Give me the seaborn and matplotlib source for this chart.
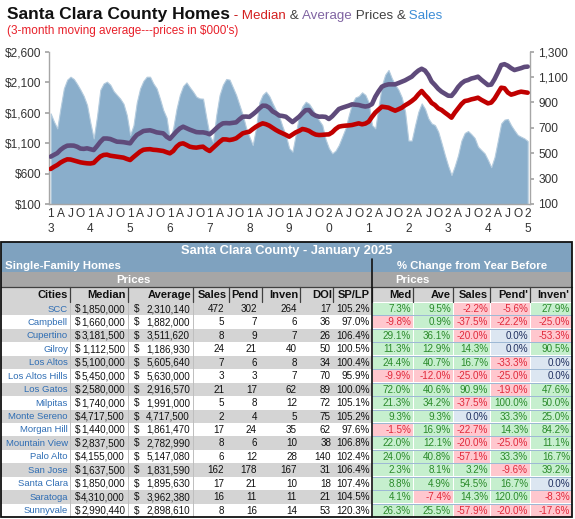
import numpy as np
import pandas as pd
import seaborn as sns
import matplotlib.pyplot as plt
from matplotlib.patches import Rectangle

sns.set_theme(style="white")
plt.rcParams['font.family'] = ['Liberation Sans', 'DejaVu Sans']

# monthly 3-month moving averages, Jan 2013 .. Jan 2025 (prices in $000's)
median_k = [
    675, 710, 740, 780, 810, 833, 830, 815, 800, 784, 775, 768,
    765, 775, 830, 880, 905, 910, 893, 885, 877, 870, 861, 840,
    822, 870, 915, 960, 990, 997, 1000, 990, 986, 978, 970, 950,
    932, 970, 1040, 1085, 1096, 1070, 1041, 1030, 1025, 1035, 1041, 1000,
    970, 1020, 1068, 1120, 1161, 1160, 1150, 1160, 1178, 1220, 1260, 1275,
    1287, 1330, 1369, 1400, 1424, 1410, 1386, 1350, 1315, 1285, 1260, 1235,
    1205, 1240, 1276, 1300, 1331, 1320, 1300, 1265, 1240, 1232, 1235, 1240,
    1243, 1276, 1330, 1369, 1380, 1386, 1390, 1397, 1410, 1424, 1408, 1420,
    1451, 1530, 1600, 1650, 1697, 1690, 1681, 1655, 1632, 1655, 1681, 1720,
    1752, 1790, 1834, 1900, 1955, 1890, 1834, 1760, 1725, 1670, 1643, 1600,
    1560, 1517, 1600, 1670, 1740, 1790, 1800, 1818, 1830, 1845, 1810, 1780,
    1752, 1765, 1830, 1920, 2009, 2000, 1930, 1895, 1910, 1930, 1944, 1935,
    1927,
]
average_k = [
    877, 905, 935, 990, 1030, 1057, 1060, 1058, 1040, 1010, 1005, 1014,
    1000, 986, 1050, 1120, 1175, 1175, 1167, 1145, 1123, 1120, 1115, 1105,
    1096, 1170, 1233, 1265, 1298, 1305, 1310, 1295, 1276, 1268, 1260, 1205,
    1170, 1230, 1290, 1340, 1369, 1345, 1320, 1300, 1280, 1276, 1276, 1265,
    1245, 1290, 1342, 1390, 1424, 1428, 1425, 1432, 1440, 1490, 1533, 1535,
    1530, 1570, 1615, 1670, 1714, 1712, 1680, 1620, 1590, 1552, 1545, 1533,
    1490, 1445, 1490, 1533, 1590, 1640, 1643, 1580, 1550, 1533, 1535, 1530,
    1495, 1540, 1600, 1659, 1680, 1697, 1715, 1736, 1730, 1725, 1710, 1700,
    1710, 1740, 1860, 1950, 2026, 2050, 2064, 2064, 2064, 2085, 2108, 2130,
    2160, 2190, 2244, 2290, 2320, 2290, 2217, 2110, 2053, 1990, 1944, 1910,
    1878, 1875, 1940, 2020, 2080, 2119, 2135, 2160, 2173, 2190, 2140, 2097,
    2053, 2060, 2150, 2260, 2381, 2395, 2370, 2330, 2299, 2315, 2330, 2350,
    2355,
]
sales = [
    814, 750, 696, 860, 1011, 1080, 1103, 1085, 1045, 1000, 950, 880,
    740, 617, 790, 1000, 1050, 1064, 1040, 990, 960, 930, 890, 800,
    644, 720, 900, 1010, 1070, 1103, 1103, 1050, 1011, 930, 840, 780,
    604, 700, 850, 960, 1030, 1058, 1020, 985, 945, 932, 930, 780,
    640, 591, 800, 959, 1040, 1085, 1080, 1020, 959, 880, 801, 700,
    630, 565, 700, 900, 960, 985, 950, 893, 840, 788, 710, 640,
    540, 512, 650, 800, 870, 906, 890, 850, 801, 760, 722, 610,
    540, 499, 520, 565, 630, 696, 800, 893, 940, 950, 980, 960,
    900, 722, 696, 870, 1037, 1120, 1156, 1090, 1040, 1000, 940, 827,
    600, 600, 720, 827, 893, 850, 775, 735, 722, 670, 580, 486,
    400, 328, 400, 486, 600, 660, 675, 650, 620, 552, 525, 499,
    447, 390, 470, 600, 735, 765, 770, 720, 680, 644, 630, 617,
    596,
]
years = ['13', '14', '15', '16', '17', '18', '19', '20', '21', '22', '23', '24', '25']
quarter_letters = ['A', 'J', 'O']
price_ticks = [100, 600, 1100, 1600, 2100, 2600]
sales_ticks = [100, 300, 500, 700, 900, 1100, 1300]

# table
cities = ['SCC', 'Campbell', 'Cupertino', 'Gilroy', 'Los Altos', 'Los Altos Hills',
          'Los Gatos', 'Milpitas', 'Monte Sereno', 'Morgan Hill', 'Mountain View',
          'Palo Alto', 'San Jose', 'Santa Clara', 'Saratoga', 'Sunnyvale']
med_price = [1850000, 1660000, 3181500, 1112500, 5100000, 5450000, 2580000, 1740000,
             4717500, 1440000, 2837500, 4155000, 1637500, 1850000, 4310000, 2990440]
avg_price = [2310140, 1882000, 3511620, 1186930, 5605640, 5630000, 2916570, 1991000,
             4717500, 1861470, 2782990, 5147080, 1831590, 1895630, 3962380, 2898610]
n_sales = [472, 5, 8, 24, 7, 3, 21, 5, 2, 17, 8, 6, 162, 17, 16, 8]
n_pend = [302, 7, 9, 21, 6, 3, 17, 8, 4, 24, 6, 12, 178, 21, 11, 16]
n_inven = [264, 6, 7, 40, 8, 7, 62, 12, 5, 35, 10, 28, 167, 10, 11, 14]
doi = [17, 36, 26, 50, 34, 70, 89, 72, 75, 62, 38, 140, 31, 18, 21, 53]
sp_lp = [105.2, 97.0, 106.4, 100.5, 100.4, 95.9, 100.0, 105.1, 105.2, 97.6, 106.8,
         102.4, 106.4, 107.4, 104.5, 120.3]
chg_med = [7.3, -9.8, 29.1, 11.3, 24.4, -9.9, 72.0, 21.3, 9.3, -1.5, 22.0, 24.0, 2.3, 8.8, 4.1, 26.3]
chg_ave = [9.5, 0.9, 36.1, 12.9, 40.7, -12.0, 40.6, 34.2, 9.3, 16.9, 12.1, 40.8, 8.1, 4.9, -7.4, 25.5]
chg_sales = [-2.2, -37.5, -20.0, 14.3, 16.7, -25.0, 90.9, -37.5, 0.0, -22.7, -20.0, -57.1, 3.2, 54.5, 14.3, -57.9]
chg_pend = [-5.6, -22.2, 0.0, 0.0, -33.3, -25.0, -19.0, 100.0, 33.3, 14.3, -25.0, 33.3, -9.6, 16.7, 120.0, -20.0]
chg_inven = [27.9, -25.0, -53.3, 90.5, 0.0, 0.0, 47.6, 50.0, 25.0, 84.2, 11.1, 16.7, 39.2, 0.0, -8.3, -17.6]

df = pd.DataFrame({'month': np.arange(len(sales)), 'median': median_k,
                   'average': average_k, 'sales': sales})

W, H = 575, 519
fig = plt.figure(figsize=(W / 100, H / 100), dpi=100)
fig.patch.set_facecolor('white')

# ---- chart ----
ax_s = fig.add_axes([49.3 / W, 1 - 204 / H, 480.7 / W, 152.3 / H])
ax_p = ax_s.twinx()

ax_s.fill_between(df['month'], 0, df['sales'], color='#8AAECB', lw=0.8,
                  edgecolor='#B5CCDE')
sns.lineplot(data=df, x='month', y='average', ax=ax_p, color='#5F4B7B', lw=3.3)
sns.lineplot(data=df, x='month', y='median', ax=ax_p, color='#C00000', lw=3.3)

ax_s.set_ylim(100, 1300)
ax_p.set_ylim(100, 2600)
ax_s.set_xlim(-0.4, 144.7)
ax_s.set_yticks(sales_ticks)
ax_s.set_yticklabels([f'{v:,}' for v in sales_ticks])
ax_p.set_yticks(price_ticks)
ax_p.set_yticklabels([f'${v:,}' for v in price_ticks])
ax_s.yaxis.set_ticks_position('right')
ax_p.yaxis.set_ticks_position('left')

xt = list(range(0, len(sales), 3))
xl = []
for m in xt:
    if m % 12 == 0:
        yy = years[m // 12]
        xl.append(yy[0] + '\n' + yy[1])
    else:
        xl.append(quarter_letters[(m % 12) // 3 - 1])
ax_s.set_xticks(xt)
ax_s.set_xticklabels(xl, linespacing=1.3)

for a in (ax_s, ax_p):
    a.set_xlabel('')
    a.set_ylabel('')
    a.grid(False)
    for sp in a.spines.values():
        sp.set_visible(False)
for side in ('left', 'right', 'bottom'):
    ax_s.spines[side].set_visible(True)
    ax_s.spines[side].set_color('#A6A6A6')
    ax_s.spines[side].set_linewidth(1.0)
ax_s.tick_params(axis='y', which='both', right=True, left=False, length=3,
                 color='#A6A6A6', labelsize=8.6, labelcolor='#333333', pad=3)
ax_p.tick_params(axis='y', which='both', left=True, right=False, length=3,
                 color='#A6A6A6', labelsize=8.6, labelcolor='#333333', pad=3)
ax_s.tick_params(axis='x', length=0, labelsize=8.6, labelcolor='#333333', pad=3)

# ---- overlay for titles & table ----
tb = fig.add_axes([0, 0, 1, 1])
tb.set_xlim(0, W)
tb.set_ylim(H, 0)
tb.axis('off')

r = fig.canvas.get_renderer()
pieces = [('Santa Clara County Homes', '#111111', 12.5, 'bold'),
          (' -', '#C00000', 9.6, 'normal'),
          (' Median', '#D42020', 9.6, 'normal'),
          (' &', '#404040', 9.6, 'normal'),
          (' Average', '#8064A2', 9.6, 'normal'),
          (' Prices &', '#404040', 9.6, 'normal'),
          (' Sales', '#3C8DD6', 9.6, 'normal')]
x = 7
for txt, col, size, wt in pieces:
    t = tb.text(x, 19, txt, color=col, fontsize=size, fontweight=wt,
                ha='left', va='baseline')
    x += t.get_window_extent(renderer=r).width
tb.text(7, 34, "(3-month moving average---prices in $000's)", color='#E8202A',
        fontsize=8.5, ha='left', va='baseline')

X0, X1 = 1, 572
edges = [1, 70, 128, 193, 229, 262, 300, 333, 372, 413, 453, 490, 530, 572]
blue_hdr = '#7FA2BF'
gray_hdr = '#A6A6A6'
light = '#D4D4D4'


def rect(x, y, w, h, fc, ec='none', lw=0, z=1):
    tb.add_patch(Rectangle((x, y), w, h, facecolor=fc, edgecolor=ec, lw=lw, zorder=z))


rect(X0, 242, X1 - X0, 30, blue_hdr)
rect(X0, 272, X1 - X0, 15, gray_hdr)
rect(X0, 287, X1 - X0, 15, light)
tb.text(287, 251, 'Santa Clara County - January 2025', color='white', fontsize=9.3,
        fontweight='bold', ha='center', va='center', zorder=5)
tb.text(5, 266, 'Single-Family Homes', color='white', fontsize=8.2,
        fontweight='bold', ha='left', va='center', zorder=5)
tb.text(472, 266, '% Change from Year Before', color='white', fontsize=8.2,
        fontweight='bold', ha='center', va='center', zorder=5)
tb.text(133, 280, 'Prices', color='white', fontsize=8.2, fontweight='bold',
        ha='center', va='center', zorder=5)
tb.text(412, 280, 'Prices', color='white', fontsize=8.2, fontweight='bold',
        ha='center', va='center', zorder=5)

headers = ['Cities', 'Median', 'Average', 'Sales', 'Pend', 'Inven', 'DOI', 'SP/LP',
           'Med', 'Ave', 'Sales', "Pend'", "Inven'"]
hdr_right = [68, 126, 191, 227, 259, 298, 332, 370, 411, 451, 488, 528, 569]
for h, xr in zip(headers, hdr_right):
    tb.text(xr, 295, h, color='#111111', fontsize=8.0, fontweight='bold',
            ha='right', va='center', zorder=5)
for e in edges[1:-1]:
    tb.plot([e, e], [287, 302], color='#404040', lw=0.9, zorder=6)
tb.plot([X0, X1], [287, 287], color='#404040', lw=0.9, zorder=6)

row_top = 302
row_h = (517 - 302) / len(cities)
green_fc, green_tc = '#C6EFCE', '#2A8A2A'
red_fc, red_tc = '#FFC7CE', '#E0283A'
zero_fc, zero_tc = '#DCE6F1', '#1F2F5F'
fs = 7.1
for i, city in enumerate(cities):
    y0 = row_top + i * row_h
    yc = y0 + row_h / 2 + 0.3
    if i % 2 == 0:
        rect(X0, y0, 372 - X0, row_h, light)
    tb.text(68, yc, city, color='#2E6DB4', fontsize=6.8, ha='right', va='center', zorder=5)
    tb.text(75, yc, '$', color='#111111', fontsize=fs, ha='left', va='center', zorder=5)
    tb.text(125, yc, f'{med_price[i]:,}', color='#111111', fontsize=fs, ha='right',
            va='center', zorder=5)
    tb.text(134, yc, '$', color='#111111', fontsize=fs, ha='left', va='center', zorder=5)
    tb.text(190, yc, f'{avg_price[i]:,}', color='#111111', fontsize=fs, ha='right',
            va='center', zorder=5)
    for val, xr in zip([n_sales[i], n_pend[i], n_inven[i], doi[i]], [224, 257, 297, 331]):
        tb.text(xr, yc, str(val), color='#111111', fontsize=fs, ha='right',
                va='center', zorder=5)
    tb.text(370, yc, f'{sp_lp[i]:.1f}%', color='#111111', fontsize=fs, ha='right',
            va='center', zorder=5)
    chg = [chg_med[i], chg_ave[i], chg_sales[i], chg_pend[i], chg_inven[i]]
    for j, v in enumerate(chg):
        cx0, cx1 = edges[8 + j], edges[9 + j]
        if v > 0:
            fc, tc = green_fc, green_tc
        elif v < 0:
            fc, tc = red_fc, red_tc
        else:
            fc, tc = zero_fc, zero_tc
        rect(cx0 + 0.5, y0 + 0.5, cx1 - cx0 - 1, row_h - 1, fc, z=2)
        tb.text(cx1 - 2, yc, f'{v:.1f}%', color=tc, fontsize=fs, ha='right',
                va='center', zorder=5)
    if i > 0:
        tb.plot([372, X1], [y0, y0], color='#9BB7D4', lw=0.7, zorder=3)

for e in (70, 128, 193):
    tb.plot([e, e], [302, 517], color='#BFBFBF', lw=0.7, zorder=3)
tb.plot([372, 372], [259, 517], color='#111111', lw=1.2, zorder=6)
tb.add_patch(Rectangle((X0, 242), X1 - X0, 517 - 242, facecolor='none',
                       edgecolor='#111111', lw=1.3, zorder=7))

fig.savefig('out.png', dpi=100)
